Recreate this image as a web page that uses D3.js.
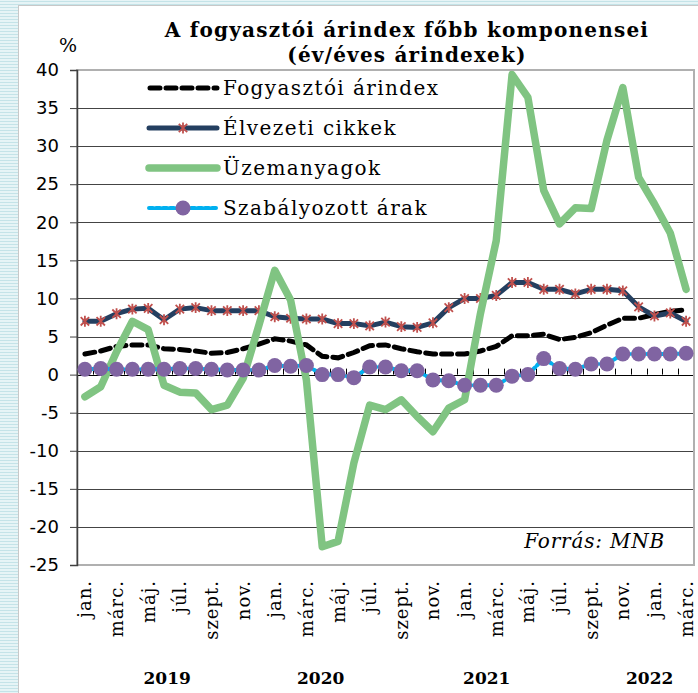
<!DOCTYPE html>
<html>
<head>
<meta charset="utf-8">
<script src="https://cdn.jsdelivr.net/npm/d3@7"></script>
<style>
  body { margin: 0; background: #fff; }
  svg { display: block; }
</style>
</head>
<body>
<div id="chart"></div>
<script>
// -------- data ---------- //
var months = [
  "jan.", "febr.", "márc.", "ápr.", "máj.", "jún.", "júl.", "aug.", "szept.", "okt.", "nov.", "dec.",
  "jan.", "febr.", "márc.", "ápr.", "máj.", "jún.", "júl.", "aug.", "szept.", "okt.", "nov.", "dec.",
  "jan.", "febr.", "márc.", "ápr.", "máj.", "jún.", "júl.", "aug.", "szept.", "okt.", "nov.", "dec.",
  "jan.", "febr.", "márc."
];
var years = ["2019", "2020", "2021", "2022"];
var yearAt = [5.2, 14.9, 25.4, 35.7]; // month index under which the year label sits

var fogyasztoi = [2.7, 3.1, 3.7, 3.9, 3.9, 3.4, 3.3, 3.1, 2.8, 2.9, 3.4, 4.0,
  4.7, 4.4, 3.9, 2.4, 2.2, 2.9, 3.8, 3.9, 3.4, 3.0, 2.7, 2.7,
  2.7, 3.1, 3.7, 5.1, 5.1, 5.3, 4.6, 4.9, 5.5, 6.5, 7.4, 7.4,
  7.9, 8.3, 8.5];
var elvezeti = [7.0, 7.0, 8.0, 8.6, 8.7, 7.2, 8.6, 8.8, 8.4, 8.4, 8.4, 8.4,
  7.6, 7.4, 7.3, 7.3, 6.7, 6.7, 6.4, 6.9, 6.3, 6.2, 6.8, 8.8,
  10.0, 10.0, 10.4, 12.1, 12.1, 11.2, 11.2, 10.6, 11.2, 11.2, 11.0, 8.9,
  7.7, 8.1, 7.0];
var uzemanyag = [-2.9, -1.6, 3.0, 7.0, 5.9, -1.4, -2.3, -2.4, -4.6, -4.0, -0.5, 6.5,
  13.7, 9.8, -0.7, -22.6, -21.9, -11.6, -4.0, -4.6, -3.3, -5.5, -7.5, -4.4,
  -3.3, 8.0, 17.6, 39.4, 36.4, 24.2, 19.8, 21.9, 21.8, 30.8, 37.7, 25.9,
  22.4, 18.6, 11.2];
var szabalyozott = [0.7, 0.8, 0.7, 0.7, 0.7, 0.7, 0.8, 0.8, 0.7, 0.6, 0.6, 0.6,
  1.2, 1.1, 1.2, 0.0, 0.0, -0.4, 1.0, 1.0, 0.5, 0.5, -0.7, -0.8,
  -1.4, -1.4, -1.4, -0.2, 0.0, 2.1, 0.8, 0.7, 1.4, 1.4, 2.7, 2.7,
  2.7, 2.7, 2.8];
var yTicks = [40, 35, 30, 25, 20, 15, 10, 5, 0, -5, -10, -15, -20, -25];

var seriesNames = ["Fogyasztói árindex", "Élvezeti cikkek", "Üzemanyagok", "Szabályozott árak"];

// -------- layout ---------- //
var W = 698, H = 693;
var plot = { left: 77, right: 694, top: 70, bottom: 565 };

var svg = d3.select("#chart").append("svg")
  .attr("width", W).attr("height", H);

// striped background strips (left and top)
var defs = svg.append("defs");
var pat = defs.append("pattern")
  .attr("id", "stripes").attr("patternUnits", "userSpaceOnUse")
  .attr("width", 8).attr("height", 3);
pat.append("rect").attr("width", 8).attr("height", 3).attr("fill", "#e6f4f6");
pat.append("rect").attr("y", 1).attr("width", 8).attr("height", 1).attr("fill", "#c4e3e8");

svg.append("rect").attr("x", 0).attr("y", 0).attr("width", W).attr("height", H).attr("fill", "url(#stripes)");
svg.append("rect").attr("x", 18.5).attr("y", 5.5).attr("width", W).attr("height", H)
  .attr("fill", "#fff").attr("stroke", "#c8c8c8").attr("stroke-width", 1);

var x = d3.scaleLinear().domain([-0.5, months.length - 0.5]).range([plot.left, plot.right]);
var y = d3.scaleLinear().domain([-25, 40]).range([plot.bottom, plot.top]);

// title
var title = svg.append("text")
  .attr("x", 407).attr("y", 37)
  .attr("text-anchor", "middle")
  .style("font-family", "DejaVu Serif").style("font-weight", "bold")
  .style("font-size", "20px").style("letter-spacing", "1.2px");
title.append("tspan").attr("x", 407).attr("dy", 0).text("A fogyasztói árindex főbb komponensei");
title.append("tspan").attr("x", 407).attr("dy", 25).text("(év/éves árindexek)");

svg.append("text").attr("x", 68).attr("y", 52).attr("text-anchor", "middle")
  .style("font-family", "DejaVu Serif").style("font-size", "19px").text("%");

// gridlines
svg.append("g").selectAll("line")
  .data(yTicks.filter(function(d) { return d !== 40 && d !== -25; }))
  .join("line")
  .attr("x1", plot.left).attr("x2", plot.right)
  .attr("y1", function(d) { return Math.round(y(d)) + 0.5; })
  .attr("y2", function(d) { return Math.round(y(d)) + 0.5; })
  .attr("stroke", function(d) { return d === 0 ? "#000" : "#444"; })
  .attr("stroke-width", 1);

// plot border
svg.append("rect")
  .attr("x", plot.left).attr("y", plot.top)
  .attr("width", plot.right - plot.left).attr("height", plot.bottom - plot.top)
  .attr("fill", "none").attr("stroke", "#b0b0b0").attr("stroke-width", 2);

// y axis
var yAxis = d3.axisLeft(y).tickValues(yTicks).tickSize(7).tickPadding(11)
  .tickFormat(function(d) { return String(d); });
var gy = svg.append("g").attr("transform", "translate(" + plot.left + ",0)").call(yAxis);
gy.select(".domain").attr("stroke", "#404040").attr("stroke-width", 1.5);
gy.selectAll(".tick line").attr("stroke", "#404040");
gy.selectAll(".tick text")
  .style("font-family", "DejaVu Sans").style("font-size", "18px").attr("fill", "#000");

// category ticks on the zero line
svg.append("g").selectAll("line")
  .data(d3.range(1, months.length))
  .join("line")
  .attr("x1", function(d) { return Math.round(x(d - 0.5)) + 0.5; })
  .attr("x2", function(d) { return Math.round(x(d - 0.5)) + 0.5; })
  .attr("y1", y(0)).attr("y2", y(0) - 6)
  .attr("stroke", "#000");

// month labels (every second month)
svg.append("g").selectAll("text")
  .data(months.map(function(m, i) { return { m: m, i: i }; }).filter(function(d) { return d.i % 2 === 0; }))
  .join("text")
  .attr("transform", function(d) { return "translate(" + (x(d.i) + 6.5) + "," + 580 + ") rotate(-90)"; })
  .attr("text-anchor", "end")
  .style("font-family", "DejaVu Serif").style("font-size", "18px").style("letter-spacing", "1px")
  .text(function(d) { return d.m; });

// year labels
svg.append("g").selectAll("text")
  .data(years)
  .join("text")
  .attr("x", function(d, i) { return x(yearAt[i]); })
  .attr("y", 684)
  .attr("text-anchor", "middle")
  .style("font-family", "DejaVu Serif").style("font-weight", "bold").style("font-size", "17px")
  .text(function(d) { return d; });

// -------- lines ---------- //
var line = d3.line()
  .x(function(d, i) { return x(i); })
  .y(function(d) { return y(d); });

var navy = "#243f60", red = "#c0504d", green = "#80c482", blue = "#00b0f0", purple = "#8064a2";

function starPath(s) {
  return "M" + (-s) + "," + (-s) + "L" + s + "," + s +
    "M" + (-s) + "," + s + "L" + s + "," + (-s) +
    "M0," + (-s * 1.3) + "L0," + (s * 1.3);
}

// Fogyasztói árindex
svg.append("path").datum(fogyasztoi).attr("d", line)
  .attr("fill", "none").attr("stroke", "#000").attr("stroke-width", 5)
  .attr("stroke-dasharray", "10,6").attr("stroke-linecap", "round");

// Élvezeti cikkek
svg.append("path").datum(elvezeti).attr("d", line)
  .attr("fill", "none").attr("stroke", navy).attr("stroke-width", 5)
  .attr("stroke-linejoin", "round").attr("stroke-linecap", "round");
svg.append("g").selectAll("path")
  .data(elvezeti).join("path")
  .attr("transform", function(d, i) { return "translate(" + x(i) + "," + y(d) + ")"; })
  .attr("d", starPath(4.2))
  .attr("stroke", red).attr("stroke-width", 1.8).attr("fill", "none");

// Üzemanyagok
svg.append("path").datum(uzemanyag).attr("d", line)
  .attr("fill", "none").attr("stroke", green).attr("stroke-width", 7.5)
  .attr("stroke-linejoin", "round").attr("stroke-linecap", "round");

// Szabályozott árak
svg.append("path").datum(szabalyozott).attr("d", line)
  .attr("fill", "none").attr("stroke", blue).attr("stroke-width", 4)
  .attr("stroke-dasharray", "4,3").attr("stroke-linecap", "round");
svg.append("g").selectAll("circle")
  .data(szabalyozott).join("circle")
  .attr("cx", function(d, i) { return x(i); })
  .attr("cy", function(d) { return y(d); })
  .attr("r", 7.5).attr("fill", purple);

// -------- legend ---------- //
var legend = svg.append("g").attr("transform", "translate(147,0)");
var legendY = [88, 128, 168, 208];
seriesNames.forEach(function(name, k) {
  var g = legend.append("g").attr("transform", "translate(0," + legendY[k] + ")");
  if (k === 0) {
    g.append("line").attr("x1", 3).attr("x2", 70)
      .attr("stroke", "#000").attr("stroke-width", 5)
      .attr("stroke-dasharray", "10,6").attr("stroke-linecap", "round");
  } else if (k === 1) {
    g.append("line").attr("x1", 2).attr("x2", 70)
      .attr("stroke", navy).attr("stroke-width", 5).attr("stroke-linecap", "round");
    g.append("path").attr("transform", "translate(36,0)").attr("d", starPath(4.2))
      .attr("stroke", red).attr("stroke-width", 1.8).attr("fill", "none");
  } else if (k === 2) {
    g.append("line").attr("x1", 2).attr("x2", 70)
      .attr("stroke", green).attr("stroke-width", 7.5).attr("stroke-linecap", "round");
  } else {
    g.append("line").attr("x1", 2).attr("x2", 70)
      .attr("stroke", blue).attr("stroke-width", 4)
      .attr("stroke-dasharray", "4,3").attr("stroke-linecap", "round");
    g.append("circle").attr("cx", 36).attr("r", 7.5).attr("fill", purple);
  }
  g.append("text").attr("x", 76).attr("y", 7)
    .style("font-family", "DejaVu Serif").style("font-size", "20px").style("letter-spacing", "1.4px")
    .text(name);
});

// source
svg.append("text").attr("x", 665).attr("y", 548).attr("text-anchor", "end")
  .style("font-family", "DejaVu Serif").style("font-style", "italic")
  .style("font-size", "20px").style("letter-spacing", "0.8px")
  .text("Forrás: MNB");
</script>
</body>
</html>
